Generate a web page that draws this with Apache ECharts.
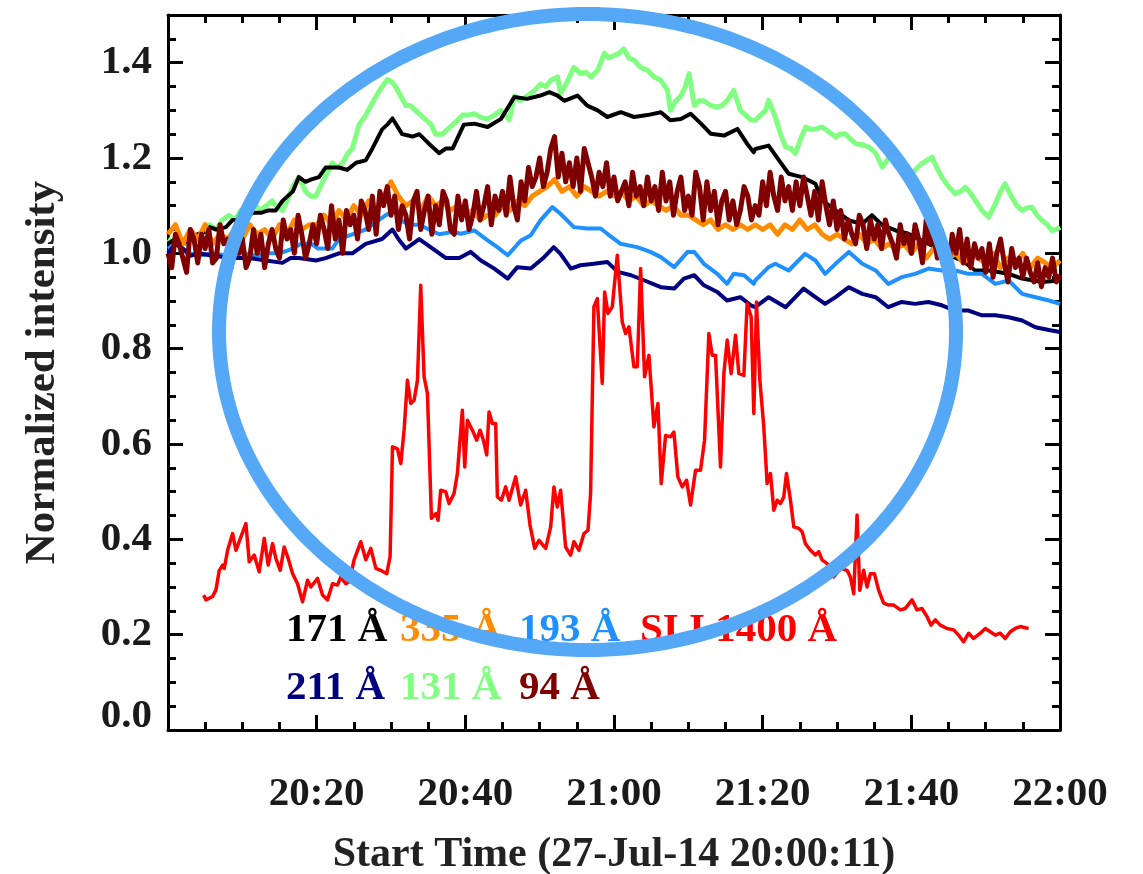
<!DOCTYPE html>
<html>
<head>
<meta charset="utf-8">
<script src="https://cdn.jsdelivr.net/npm/echarts@6/dist/echarts.min.js"></script>
<style>html,body{margin:0;padding:0;background:#fff}#chart{width:1143px;height:874px}</style>
</head>
<body>
<div id="chart"></div>
<script>
// ---- data (minutes after 20:00, normalized intensity) ----
const xTickLabels = ['', '20:20', '20:40', '21:00', '21:20', '21:40', '22:00'];
const yTickLabels = ['0.0', '0.2', '0.4', '0.6', '0.8', '1.0', '1.2', '1.4'];

const aia131 = [[0,1.03],[1,1.02],[1.5,1.03],[2.5,1.02],[3.1,1.04],[4,1.03],[5,1.05],[5.6,1.06],[6.5,1.05],[7.3,1.07],[8.2,1.08],[9,1.07],[9.8,1.09],[10.9,1.09],[11.8,1.10],[12.5,1.09],[13.2,1.10],[14,1.11],[14.5,1.10],[15.4,1.09],[16,1.11],[16.8,1.14],[17.6,1.16],[18.5,1.13],[19.2,1.12],[19.9,1.12],[20.8,1.15],[21.5,1.17],[22.1,1.19],[22.8,1.18],[23.5,1.19],[24.2,1.21],[24.8,1.22],[25.7,1.27],[26.6,1.29],[27.3,1.31],[28.0,1.33],[28.8,1.35],[29.5,1.365],[30.1,1.36],[30.6,1.35],[31.3,1.33],[32.0,1.31],[32.6,1.31],[33.3,1.30],[34.0,1.29],[34.7,1.28],[35.4,1.27],[36.0,1.25],[36.9,1.25],[37.6,1.26],[38.3,1.27],[39.0,1.28],[39.6,1.29],[40.3,1.29],[41.2,1.293],[42.1,1.285],[43.0,1.282],[43.9,1.29],[44.8,1.30],[45.4,1.29],[45.9,1.28],[46.6,1.33],[47.4,1.32],[48.3,1.33],[49.2,1.34],[50.1,1.355],[50.8,1.35],[51.5,1.363],[52.4,1.37],[52.8,1.335],[53.7,1.36],[54.6,1.39],[55.5,1.377],[56.2,1.38],[56.9,1.37],[57.8,1.384],[58.7,1.42],[59.3,1.41],[60.0,1.415],[60.7,1.42],[61.3,1.429],[62.0,1.41],[62.7,1.405],[63.6,1.39],[64.5,1.384],[65.4,1.37],[66.3,1.363],[67.2,1.342],[67.6,1.30],[68.3,1.32],[69.0,1.33],[69.6,1.35],[70.1,1.377],[70.8,1.31],[71.4,1.32],[72.1,1.32],[73.0,1.31],[73.9,1.307],[74.5,1.31],[75.2,1.32],[76.1,1.342],[77.0,1.30],[77.7,1.29],[78.4,1.28],[79.0,1.279],[79.7,1.29],[80.4,1.30],[80.8,1.321],[81.7,1.286],[82.4,1.25],[83.1,1.223],[83.8,1.22],[84.4,1.209],[85.1,1.24],[85.8,1.265],[86.5,1.26],[87.1,1.261],[88.0,1.265],[88.9,1.255],[89.8,1.244],[90.4,1.25],[91.1,1.251],[91.8,1.24],[92.5,1.23],[93.4,1.228],[94.3,1.223],[95.2,1.21],[96.1,1.181],[97.0,1.202],[97.8,1.195],[98.7,1.188],[99.4,1.175],[100.1,1.167],[100.8,1.18],[101.4,1.188],[102.1,1.195],[102.8,1.202],[103.4,1.18],[104.1,1.16],[105.0,1.14],[105.9,1.125],[106.6,1.13],[107.3,1.139],[108.0,1.125],[108.6,1.111],[109.5,1.09],[110.4,1.076],[111.3,1.104],[112.0,1.13],[112.6,1.146],[113.5,1.118],[114.2,1.10],[114.9,1.09],[115.5,1.095],[116.2,1.097],[116.9,1.08],[117.6,1.069],[118.3,1.06],[118.9,1.048],[119.5,1.05],[120,1.055]];

const aia171 = [[0,1.02],[1,1.03],[2,1.02],[3,1.03],[4,1.04],[5,1.045],[5.6,1.055],[6.5,1.05],[7.8,1.055],[8.7,1.07],[10,1.07],[11.4,1.085],[12.5,1.085],[13.5,1.09],[14.5,1.09],[15.4,1.11],[16.8,1.13],[17.6,1.16],[18.5,1.15],[19.3,1.155],[20.3,1.16],[21.2,1.18],[22.1,1.18],[23.0,1.18],[24.1,1.175],[25.3,1.19],[26.6,1.195],[27.5,1.22],[28.8,1.26],[29.5,1.27],[30.2,1.283],[31.5,1.25],[32.9,1.245],[33.8,1.25],[35.1,1.23],[36.5,1.21],[37.4,1.22],[38.3,1.22],[39.2,1.25],[39.8,1.27],[41.2,1.272],[43.0,1.265],[44.8,1.282],[46.6,1.328],[48.3,1.324],[50.1,1.331],[51.3,1.338],[52.4,1.331],[53.3,1.32],[55.1,1.331],[56.4,1.31],[57.8,1.30],[59.1,1.286],[60.9,1.296],[62.7,1.286],[64.5,1.29],[66.3,1.296],[67.6,1.279],[69.0,1.282],[70.3,1.293],[71.7,1.272],[73.0,1.251],[74.8,1.247],[76.6,1.261],[77.9,1.23],[78.8,1.212],[79.0,1.219],[80.8,1.226],[82.2,1.195],[83.5,1.167],[85.3,1.16],[87.1,1.146],[88.0,1.111],[89.8,1.09],[91.6,1.069],[93.4,1.062],[94.7,1.08],[96.1,1.059],[97.9,1.048],[99.6,1.041],[101.4,1.027],[103.2,1.013],[105.0,0.996],[106.8,0.985],[108.6,0.964],[110.4,0.964],[113.1,0.957],[114.9,0.947],[117.6,0.94],[120,0.943]];

const aia193 = [[0,1.01],[1,1.02],[2,1.01],[3,1.0],[4.2,0.995],[6,1.0],[8,0.995],[10,1.0],[12,0.995],[13.2,1.0],[15,1.0],[16.8,1.01],[17.9,1.02],[19.3,1.02],[20.2,1.01],[22.1,1.01],[23.0,1.03],[24.8,1.04],[26.6,1.05],[27.5,1.06],[29.3,1.08],[30.4,1.09],[31.3,1.07],[32.4,1.06],[33.8,1.06],[35.1,1.05],[36.5,1.04],[38.3,1.045],[39.4,1.041],[41.2,1.048],[43.0,1.027],[44.3,1.013],[45.7,0.996],[47.5,1.027],[48.8,1.038],[50.1,1.069],[51.7,1.097],[52.8,1.083],[54.6,1.055],[56.4,1.052],[58.2,1.052],[59.1,1.041],[60.9,1.02],[63.1,1.013],[64.9,1.003],[66.3,0.992],[68.1,0.971],[69.9,1.003],[70.8,1.003],[72.1,0.978],[73.9,0.957],[75.2,0.936],[76.1,0.957],[77.5,0.954],[78.8,0.936],[79.0,0.943],[80.8,0.971],[81.7,0.978],[83.5,0.964],[85.7,0.999],[87.1,0.985],[88.4,0.957],[89.8,0.978],[91.6,1.003],[93.4,0.978],[95.2,0.964],[96.9,0.936],[98.7,0.95],[100.5,0.957],[102.3,0.968],[104.1,0.964],[105.9,0.964],[107.7,0.957],[109.5,0.957],[111.3,0.936],[113.1,0.943],[114.9,0.915],[116.7,0.908],[118.5,0.901],[120,0.894]];

const aia211 = [[0,1.0],[1,1.02],[2,1.01],[3,0.995],[4.2,1.0],[6,0.995],[8.7,0.99],[10.9,0.99],[13.2,0.985],[15.4,0.98],[16.5,0.99],[17.6,0.99],[19.9,0.985],[21.2,0.99],[23.0,1.0],[24.8,1.0],[26.6,1.02],[28.8,1.03],[30.2,1.05],[31.0,1.03],[32.0,1.01],[33.8,1.03],[35.6,1.01],[37.4,0.99],[39.2,0.99],[40.7,1.003],[42.1,0.985],[43.9,0.968],[45.7,0.947],[47.0,0.971],[48.8,0.968],[50.6,0.992],[51.9,1.013],[52.8,0.999],[54.2,0.968],[55.5,0.975],[57.3,0.978],[59.1,0.982],[60.5,0.961],[62.3,0.954],[64.1,0.943],[66.3,0.929],[68.1,0.926],[69.4,0.947],[70.8,0.954],[72.1,0.933],[73.9,0.919],[75.2,0.901],[77.0,0.908],[78.4,0.891],[79.0,0.887],[80.8,0.908],[83.1,0.887],[85.5,0.926],[87.1,0.908],[88.4,0.894],[89.8,0.908],[91.6,0.929],[93.4,0.915],[95.2,0.908],[96.9,0.887],[98.7,0.898],[100.5,0.894],[102.3,0.898],[104.1,0.891],[105.9,0.88],[107.7,0.88],[109.5,0.87],[111.3,0.87],[113.1,0.866],[114.9,0.859],[116.7,0.845],[118.5,0.839],[120,0.835]];

// 335 A: one sample per minute from 20:00
const aia335Step = 1;
const aia335 = [1.04,1.06,1.02,1.05,1.03,1.06,1.02,1.04,1.03,1.05,
 1.03,1.06,1.04,1.05,1.03,1.06,1.04,1.07,1.05,1.06,
 1.06,1.08,1.06,1.09,1.07,1.10,1.08,1.11,1.09,1.12,
 1.15,1.12,1.10,1.11,1.09,1.12,1.10,1.11,1.09,1.10,
 1.08,1.09,1.07,1.08,1.08,1.10,1.09,1.11,1.10,1.12,
 1.13,1.14,1.155,1.13,1.14,1.12,1.14,1.13,1.12,1.13,
 1.12,1.13,1.11,1.12,1.10,1.11,1.10,1.09,1.10,1.08,
 1.08,1.07,1.06,1.07,1.05,1.06,1.05,1.06,1.05,1.06,
 1.05,1.06,1.04,1.06,1.05,1.07,1.05,1.06,1.04,1.03,
 1.04,1.03,1.02,1.04,1.02,1.03,1.01,1.02,1.01,1.02,
 1.00,1.02,0.99,1.01,1.00,0.99,1.00,0.98,1.00,0.99,
 0.98,1.00,0.97,0.99,0.98,1.00,0.97,0.99,0.98,0.97,
 0.985];

// 94 A: one sample every half minute from 20:00
const aia94Step = 0.5;
const aia94 = [1.00,0.97,1.04,1.02,0.99,0.96,1.05,1.03,0.98,1.04,
 1.01,1.05,0.98,0.99,1.06,1.02,1.03,0.97,1.04,1.00,
 1.03,0.97,0.99,1.05,1.00,1.04,0.97,1.02,1.05,1.01,
 0.99,1.07,1.03,1.05,1.00,1.08,1.04,0.99,1.02,1.06,
 1.02,1.08,1.05,1.01,1.10,1.03,1.07,1.00,1.09,1.06,
 1.08,1.03,1.11,1.09,1.05,1.12,1.04,1.13,1.10,1.14,
 1.08,1.12,1.05,1.10,1.08,1.03,1.11,1.13,1.05,1.09,
 1.12,1.04,1.10,1.06,1.13,1.11,1.05,1.04,1.12,1.07,
 1.11,1.05,1.08,1.13,1.07,1.10,1.14,1.06,1.12,1.09,
 1.13,1.08,1.16,1.10,1.07,1.15,1.11,1.18,1.14,1.16,
 1.20,1.14,1.17,1.22,1.245,1.16,1.21,1.15,1.19,1.14,
 1.20,1.13,1.22,1.19,1.16,1.12,1.17,1.14,1.19,1.12,
 1.16,1.11,1.13,1.15,1.10,1.17,1.12,1.14,1.10,1.16,
 1.11,1.14,1.09,1.17,1.11,1.15,1.08,1.13,1.16,1.09,
 1.12,1.08,1.17,1.14,1.07,1.15,1.09,1.13,1.06,1.11,
 1.13,1.07,1.11,1.06,1.09,1.14,1.12,1.07,1.10,1.08,
 1.15,1.10,1.17,1.12,1.09,1.16,1.11,1.14,1.09,1.15,
 1.10,1.16,1.12,1.08,1.13,1.07,1.15,1.10,1.06,1.11,
 1.05,1.09,1.03,1.07,1.04,1.02,1.08,1.06,1.01,1.07,
 1.03,1.06,1.01,1.07,1.04,1.02,0.99,1.06,1.02,1.04,
 1.00,1.06,1.03,0.98,1.07,1.02,1.04,0.99,1.05,1.01,
 0.97,1.04,1.00,1.05,0.98,1.03,0.97,1.02,0.99,1.01,
 0.96,1.02,0.95,1.00,1.03,0.98,0.94,1.01,0.97,0.99,
 0.95,0.99,0.96,0.94,0.98,0.93,0.97,0.95,0.99,0.94,
 0.955];

const siIV1400 = [[4.79,0.283],[5.11,0.273],[6.0,0.28],[6.45,0.294],[6.9,0.335],[7.35,0.346],[7.57,0.339],[8.02,0.377],[8.69,0.412],[9.14,0.377],[9.81,0.405],[10.48,0.433],[10.93,0.353],[11.6,0.367],[12.27,0.332],[12.95,0.402],[13.48,0.346],[14.07,0.391],[14.51,0.36],[15.1,0.335],[15.63,0.384],[16.17,0.36],[16.76,0.328],[17.43,0.307],[18.1,0.269],[18.77,0.314],[19.22,0.3],[20.12,0.318],[20.79,0.283],[21.46,0.273],[22.13,0.307],[22.8,0.304],[23.25,0.321],[23.92,0.307],[24.37,0.311],[25.04,0.357],[25.94,0.395],[26.61,0.357],[27.28,0.381],[27.96,0.339],[28.63,0.335],[29.43,0.328],[29.88,0.364],[30.2,0.594],[30.87,0.59],[31.32,0.559],[31.76,0.629],[32.21,0.734],[32.66,0.685],[33.11,0.692],[33.56,0.734],[34.0,0.933],[34.45,0.741],[34.9,0.706],[35.44,0.444],[36.02,0.454],[36.33,0.44],[36.69,0.503],[37.36,0.5],[37.81,0.475],[38.48,0.496],[38.93,0.538],[39.6,0.671],[39.92,0.552],[40.28,0.65],[40.95,0.629],[41.53,0.608],[41.98,0.629],[42.43,0.608],[42.87,0.577],[43.19,0.667],[43.64,0.643],[44.08,0.643],[44.31,0.489],[44.85,0.482],[45.43,0.51],[45.88,0.482],[46.77,0.531],[47.44,0.472],[48.12,0.503],[48.7,0.43],[49.33,0.381],[49.91,0.398],[50.81,0.381],[51.48,0.426],[51.92,0.51],[52.37,0.468],[52.82,0.503],[53.49,0.384],[54.16,0.367],[54.61,0.395],[55.29,0.377],[55.96,0.412],[56.5,0.419],[56.85,0.496],[57.3,0.888],[57.75,0.905],[58.42,0.727],[58.74,0.919],[59.19,0.874],[59.77,0.888],[60.44,0.996],[61.11,0.856],[61.56,0.832],[62.01,0.846],[62.68,0.762],[63.13,0.762],[63.58,0.968],[64.11,0.741],[64.7,0.786],[65.37,0.636],[65.91,0.685],[66.35,0.517],[66.94,0.618],[67.61,0.615],[68.06,0.625],[68.59,0.531],[69.18,0.51],[69.76,0.524],[70.3,0.472],[70.97,0.545],[71.64,0.545],[72.18,0.608],[72.76,0.832],[73.21,0.786],[73.66,0.786],[74.33,0.552],[74.78,0.748],[75.23,0.818],[75.76,0.748],[76.35,0.828],[76.79,0.748],[77.47,0.744],[77.91,0.895],[78.45,0.867],[78.81,0.664],[79.17,0.898],[79.62,0.734],[80.15,0.636],[80.6,0.517],[81.05,0.538],[81.5,0.461],[81.95,0.482],[82.39,0.475],[82.84,0.489],[83.2,0.538],[83.74,0.482],[84.19,0.426],[84.86,0.423],[85.31,0.416],[85.75,0.391],[86.43,0.377],[87.1,0.367],[87.55,0.374],[87.99,0.357],[88.67,0.349],[89.56,0.321],[90.46,0.339],[91.35,0.335],[91.8,0.321],[92.25,0.286],[92.7,0.451],[93.06,0.293],[93.59,0.335],[94.04,0.3],[94.49,0.328],[95.03,0.328],[95.61,0.293],[96.28,0.266],[96.95,0.262],[97.63,0.262],[98.52,0.252],[99.19,0.255],[100.09,0.273],[100.76,0.252],[101.43,0.255],[102.11,0.238],[102.64,0.22],[103.23,0.231],[103.9,0.22],[104.8,0.213],[105.69,0.21],[106.36,0.199],[107.03,0.185],[107.71,0.203],[108.38,0.192],[109.28,0.203],[109.95,0.213],[110.62,0.206],[111.29,0.199],[111.96,0.203],[112.63,0.192],[113.31,0.206],[113.98,0.213],[114.65,0.217],[115.77,0.213]];

const legendRow1 = ['171 Å', '335 Å', '193 Å', 'SI I 1400 Å'];
const legendRow2 = ['211 Å', '131 Å', '94 Å'];

// ---- styling ----
const SERIF = '"Liberation Serif", "DejaVu Serif", serif';
const C = {k:'#000000', o:'#ff8c00', b:'#1e90ff', r:'#ff0000', n:'#000080', g:'#80ff80', m:'#800000'};

function regular(values, step) { return values.map((v, i) => [i * step, v]); }

const chart = echarts.init(document.getElementById('chart'), null, {renderer: 'canvas'});

const axisCommon = {
  axisLine: {show: true, onZero: false, lineStyle: {color: '#000', width: 3}},
  axisTick: {show: true, inside: true, length: 15, lineStyle: {color: '#000', width: 3}},
  minorTick: {show: true, splitNumber: 4, length: 8, lineStyle: {color: '#000', width: 3}},
  splitLine: {show: false}
};

const labelFont = {fontFamily: SERIF, fontWeight: 'bold', fontSize: 41, color: '#1a1a1a'};

function line(name, data, color, width, z) {
  return {name, type: 'line', data, showSymbol: false, symbol: 'none', z,
    lineStyle: {color, width, join: 'round'}, itemStyle: {color}, sampling: null, animation: false};
}

// ellipse annotation (pixel space)
const ell = {cx: 587.5, cy: 332, rx: 368.5, ry: 318};
const ellPts = [];
for (let i = 0; i < 240; i++) {
  const a = i / 240 * Math.PI * 2;
  ellPts.push([ell.cx + ell.rx * Math.cos(a), ell.cy + ell.ry * Math.sin(a)]);
}

const legendFont = 'bold 41px ' + SERIF;
const row1Colors = [C.k, C.o, C.b, C.r];
const row2Colors = [C.n, C.g, C.m];
const colX = [286, 400, 519, 640];
const legendGraphics = [];
legendRow1.forEach((t, i) => legendGraphics.push({type: 'text', z: 50,
  style: {text: t, x: colX[i], y: 630, font: legendFont, fill: row1Colors[i], verticalAlign: 'middle', align: 'left'}}));
legendRow2.forEach((t, i) => legendGraphics.push({type: 'text', z: 50,
  style: {text: t, x: colX[i], y: 688, font: legendFont, fill: row2Colors[i], verticalAlign: 'middle', align: 'left'}}));

const option = {
  animation: false,
  backgroundColor: '#ffffff',
  grid: {left: 168, right: 83, top: 15, bottom: 144, containLabel: false, outerBoundsMode: 'none'},
  xAxis: [
    Object.assign({}, axisCommon, {
      type: 'value', min: 0, max: 120, interval: 20, position: 'bottom',
      axisLabel: Object.assign({}, labelFont, {margin: 44,
        formatter: (v) => xTickLabels[Math.round(v / 20)] || ''}),
      name: 'Start Time (27-Jul-14 20:00:11)', nameLocation: 'middle', nameGap: 104,
      nameTextStyle: {fontFamily: SERIF, fontWeight: 'bold', fontSize: 42, color: '#222'}
    }),
    Object.assign({}, axisCommon, {
      type: 'value', min: 0, max: 120, interval: 20, position: 'top',
      axisLabel: {show: false}
    })
  ],
  yAxis: [
    Object.assign({}, axisCommon, {
      type: 'value', min: 0, max: 1.5, interval: 0.2, position: 'left',
      axisLabel: Object.assign({}, labelFont, {margin: 16, showMaxLabel: false,
        formatter: (v) => {
          const idx = Math.round(v / 0.2);
          if (Math.abs(v - idx * 0.2) > 1e-6 || !yTickLabels[idx]) return '';
          return idx === 0 ? '{lo|' + yTickLabels[0] + '}' : yTickLabels[idx];
        },
        rich: {lo: {fontFamily: SERIF, fontWeight: 'bold', fontSize: 41, color: '#1a1a1a', padding: [0, 0, 28, 0]}}}),
      name: 'Normalized intensity', nameLocation: 'middle', nameGap: 104, nameRotate: 90,
      nameTextStyle: {fontFamily: SERIF, fontWeight: 'bold', fontSize: 43, color: '#222'}
    }),
    Object.assign({}, axisCommon, {
      type: 'value', min: 0, max: 1.5, interval: 0.2, position: 'right',
      axisLabel: {show: false}
    })
  ],
  series: [
    line('131 Å', aia131, C.g, 5, 2),
    line('171 Å', aia171, C.k, 4, 3),
    line('335 Å', regular(aia335, aia335Step), C.o, 5, 4),
    line('193 Å', aia193, C.b, 4, 5),
    line('211 Å', aia211, C.n, 4, 6),
    line('94 Å', regular(aia94, aia94Step), C.m, 5, 7),
    line('SI I 1400 Å', siIV1400, C.r, 3.5, 8)
  ],
  graphic: [
    ...legendGraphics,
    {type: 'polygon', z: 100, silent: true,
      shape: {points: ellPts},
      style: {fill: null, stroke: '#55a8f5', lineWidth: 14}}
  ]
};
chart.setOption(option);
</script>
</body>
</html>
